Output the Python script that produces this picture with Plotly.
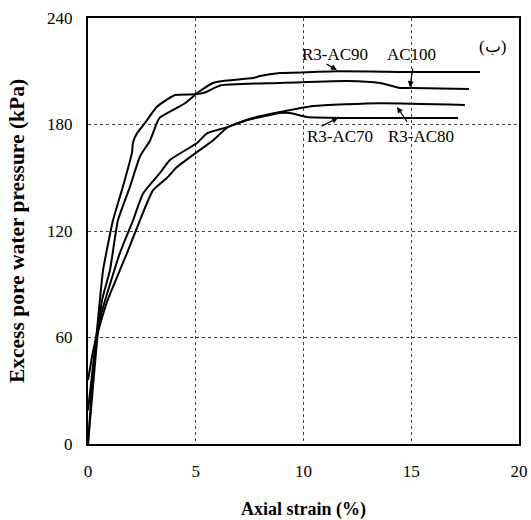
import plotly.graph_objects as go

# --- data ---
ac100_x = [0, 0.2, 0.4, 0.55, 0.70, 1.16, 1.62, 2.04, 2.09, 2.27, 2.65, 3.2, 4.04, 4.97, 5.43, 6.13, 8.91, 12.02, 13.55, 14.48, 15.08, 17.68]
ac100_y = [0, 35, 62, 81, 98, 126, 145, 164, 170, 175, 181, 190, 196.6, 197, 198, 202, 203.4, 204.5, 203.4, 200.6, 200.6, 200]

ac90_x = [0, 0.25, 0.45, 0.65, 1.02, 1.39, 1.95, 2.41, 2.88, 3.2, 3.34, 4.5, 5.1, 5.8, 6.26, 7.66, 7.98, 8.91, 10.44, 11.55, 14.48, 18.19]
ac90_y = [0, 35, 62, 81, 98, 126, 145, 162, 171, 181, 184, 192, 198, 203.4, 204.5, 206.2, 207.3, 209, 209.6, 210, 209.6, 209.6]

ac70_x = [0, 0.2, 0.37, 0.70, 1.48, 2.09, 2.55, 3.34, 3.8, 5.06, 5.52, 6.5, 7.38, 8.91, 9.37, 10.16, 12.02, 17.17]
ac70_y = [36, 50, 60, 77, 107.6, 126, 141, 152.7, 160, 169.6, 175, 178.6, 182.5, 186.5, 186.5, 184.2, 183.7, 183.7]

ac80_x = [0, 0.15, 0.4, 0.88, 1.81, 2.41, 3.02, 3.67, 4.13, 5.06, 5.8, 6.5, 7.66, 8.91, 10.44, 13.55, 17.49]
ac80_y = [19, 35, 60, 80, 107.6, 126, 143, 150, 156, 164.5, 171, 178.6, 183.7, 187, 190.4, 192, 191]

series_names = ["AC100", "R3-AC90", "R3-AC70", "R3-AC80"]
x_ticks = [0, 5, 10, 15, 20]
y_ticks = [0, 60, 120, 180, 240]

FONT = "Liberation Serif, Times New Roman, serif"

fig = go.Figure()
for name, xs, ys in zip(series_names, [ac100_x, ac90_x, ac70_x, ac80_x], [ac100_y, ac90_y, ac70_y, ac80_y]):
    fig.add_trace(go.Scatter(x=xs, y=ys, mode="lines", name=name,
                             line=dict(color="black", width=2, shape="spline", smoothing=0.5),
                             showlegend=False))

# labels with arrows: (text, text x, text y, head x, head y, tail x, tail y)
labels = [
    ("R3-AC90", 11.46, 219.2, 11.55, 210.7, 11.0, 214.6),
    ("AC100", 15.03, 219.2, 14.94, 201.0, 15.08, 212.4),
    ("R3-AC70", 11.69, 173.0, 11.6, 183.7, 10.77, 178.6),
    ("R3-AC80", 15.45, 173.0, 14.34, 189.9, 14.85, 180.8),
]
for t, tx, ty, hx, hy, sx, sy in labels:
    fig.add_annotation(x=tx, y=ty, text=t, showarrow=False,
                       font=dict(family=FONT, size=17, color="black"))
    fig.add_annotation(x=hx, y=hy, ax=sx, ay=sy, axref="x", ayref="y", text="",
                       showarrow=True, arrowhead=2, arrowsize=1, arrowwidth=1.2, arrowcolor="black")

fig.add_annotation(x=18.79, y=224.2, text="(ب)", showarrow=False,
                   font=dict(family=FONT, size=17, color="black"))

fig.update_layout(
    width=531, height=520,
    margin=dict(l=88, r=12, t=18, b=76),
    plot_bgcolor="white", paper_bgcolor="white",
    font=dict(family=FONT, size=17, color="black"),
)
fig.update_xaxes(range=[0, 20], tickvals=x_ticks, ticks="", ticklabelstandoff=11,
                 automargin=False,
                 showgrid=True, gridcolor="#444", griddash="dot", gridwidth=1,
                 showline=True, linecolor="black", linewidth=2, mirror=True,
                 zeroline=False,
                 title=dict(text="<b>Axial strain (%)</b>", standoff=25,
                            font=dict(family=FONT, size=18)))
fig.update_yaxes(range=[0, 240], tickvals=y_ticks, ticks="", ticklabelstandoff=10,
                 automargin=False,
                 showgrid=True, gridcolor="#444", griddash="dot", gridwidth=1,
                 showline=True, linecolor="black", linewidth=2, mirror=True,
                 zeroline=False,
                 title=dict(text="<b>Excess pore water pressure (kPa)</b>", standoff=17,
                            font=dict(family=FONT, size=21.5)))

fig.write_html("out.html", config={"displayModeBar": False},
               post_script="document.body.style.margin='0';")
